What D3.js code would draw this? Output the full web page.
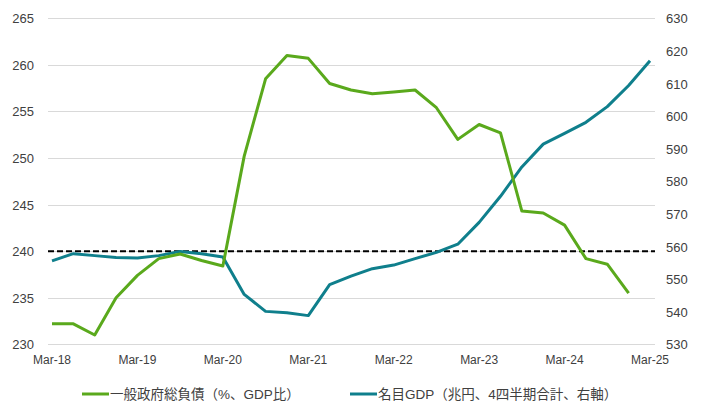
<!DOCTYPE html>
<head>
  <meta charset="utf-8">
  <script src="https://d3js.org/d3.v7.min.js"></script>
  <style>
    body { margin:0; background:#fff; }
    text { font-family: "Liberation Sans", Arial, "Noto Sans CJK JP", sans-serif; fill:#404040; }
    .legend text { font-family: "Liberation Sans", "Noto Sans CJK JP", sans-serif; }
  </style>
</head>
<body>
  <script>
    // quarterly, Mar-18 .. Mar-25
    var xLabels = ["Mar-18","Mar-19","Mar-20","Mar-21","Mar-22","Mar-23","Mar-24","Mar-25"];
    var debtRatio = [232.2,232.2,231.0,235.0,237.4,239.2,239.7,239.0,238.4,250.2,258.5,261.0,260.7,258.0,
                     257.3,256.9,257.1,257.3,255.4,252.0,253.6,252.7,244.3,244.1,242.8,239.2,238.6,235.5];
    var nominalGdp = [555.6,557.8,557.2,556.6,556.5,557.2,558.5,557.8,556.8,545.3,540.1,539.7,538.8,548.3,
                      550.9,553.2,554.3,556.3,558.2,560.7,567.4,575.4,584.4,591.4,594.7,598.1,602.9,609.4,617.0];
    var leftTicks = [230,235,240,245,250,255,260,265];
    var rightTicks = [530,540,550,560,570,580,590,600,610,620,630];
    var refLevel = 240;
    var seriesNames = ["一般政府総負債（%、GDP比）", "名目GDP（兆円、4四半期合計、右軸）"];

    var W = 703, H = 410;
    var green = "#5aa91c", teal = "#0f7f8c";

    var svg = d3.select("body").append("svg").attr("width", W).attr("height", H);

    var x = d3.scaleLinear().domain([0, 28]).range([52, 650]);
    var yL = d3.scaleLinear().domain([230, 265]).range([344.3, 18.3]);
    var yR = d3.scaleLinear().domain([530, 630]).range([344.3, 18.3]);
    var gx0 = 48, gx1 = 655;

    // gridlines
    svg.selectAll("line.grid").data(leftTicks).enter().append("line")
      .attr("x1", gx0).attr("x2", gx1)
      .attr("y1", function(d) { return Math.round(yL(d)) + 0.5; })
      .attr("y2", function(d) { return Math.round(yL(d)) + 0.5; })
      .style("stroke", "#d9d9d9").style("stroke-width", 1);

    // left axis
    svg.selectAll("text.yl").data(leftTicks).enter().append("text")
      .attr("x", 34).attr("y", function(d) { return yL(d) + 5; })
      .attr("text-anchor", "end").style("font-size", "13px")
      .text(function(d) { return d; });

    // right axis
    svg.selectAll("text.yr").data(rightTicks).enter().append("text")
      .attr("x", 666).attr("y", function(d) { return yR(d) + 5; })
      .attr("text-anchor", "start").style("font-size", "13px")
      .text(function(d) { return d; });

    // x labels
    svg.selectAll("text.xl").data(xLabels).enter().append("text")
      .attr("x", function(d, i) { return x(i * 4); }).attr("y", 364)
      .attr("text-anchor", "middle").style("font-size", "12px")
      .text(function(d) { return d; });

    // reference level
    svg.append("line")
      .attr("x1", gx0).attr("x2", gx1)
      .attr("y1", yL(refLevel)).attr("y2", yL(refLevel))
      .style("stroke", "#000").style("stroke-width", 2).style("stroke-dasharray", "6,3");

    var lineL = d3.line().x(function(d, i) { return x(i); }).y(function(d) { return yL(d); });
    var lineR = d3.line().x(function(d, i) { return x(i); }).y(function(d) { return yR(d); });

    svg.append("path").datum(nominalGdp).attr("d", lineR)
      .style("fill", "none").style("stroke", teal).style("stroke-width", 3).style("stroke-linejoin", "round");
    svg.append("path").datum(debtRatio).attr("d", lineL)
      .style("fill", "none").style("stroke", green).style("stroke-width", 3).style("stroke-linejoin", "round");

    // legend
    var leg = svg.append("g").attr("class", "legend");
    var legX = [82, 350], legColors = [green, teal];
    seriesNames.forEach(function(name, i) {
      leg.append("line").attr("x1", legX[i]).attr("x2", legX[i] + 27).attr("y1", 394).attr("y2", 394)
        .style("stroke", legColors[i]).style("stroke-width", 3);
      leg.append("text").attr("x", legX[i] + 28).attr("y", 399).style("font-size", "13.5px").text(name);
    });
  </script>
</body>
